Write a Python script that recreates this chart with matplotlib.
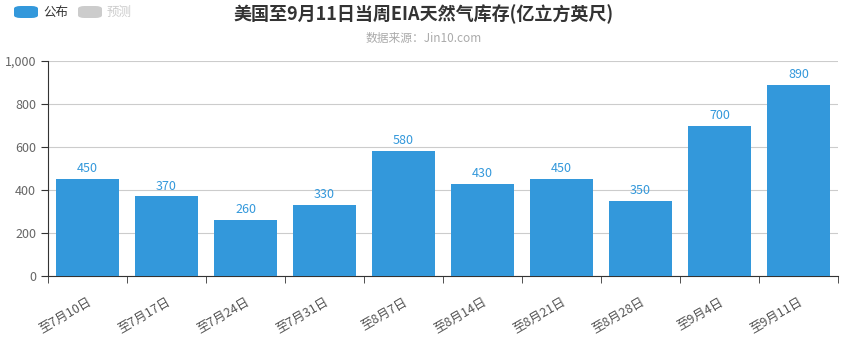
import matplotlib
matplotlib.use("Agg")
import matplotlib.pyplot as plt
from matplotlib.patches import FancyBboxPatch
from matplotlib.ticker import FuncFormatter, FixedLocator
import numpy as np

plt.rcParams['font.family'] = ['Noto Sans CJK SC', 'DejaVu Sans']

categories = ["至7月10日", "至7月17日", "至7月24日", "至7月31日", "至8月7日",
              "至8月14日", "至8月21日", "至8月28日", "至9月4日", "至9月11日"]
values = [450, 370, 260, 330, 580, 430, 450, 350, 700, 890]
yticks = [0, 200, 400, 600, 800, 1000]

title = "美国至9月11日当周EIA天然气库存(亿立方英尺)"
subtitle = "数据来源：Jin10.com"
legend_labels = ["公布", "预测"]

bar_color = "#3398DB"

fig = plt.figure(figsize=(8.48, 3.42), dpi=100)
ax = fig.add_axes([48/848, 1-276/342, (838-48)/848, (276-61)/342])

x = np.arange(len(categories))
ax.bar(x, values, width=0.8, color=bar_color, zorder=3)
for xi, v in zip(x, values):
    ax.text(xi, v + 18, str(v), ha='center', va='bottom', color=bar_color, fontsize=9)

ax.set_xlim(-0.5, len(categories) - 0.5)
ax.set_ylim(0, 1000)
ax.set_yticks(yticks)
ax.yaxis.set_major_formatter(FuncFormatter(lambda v, p: f"{int(v):,}"))
ax.grid(axis='y', color='#cccccc', linewidth=0.8, zorder=0)

ax.set_xticks(x)
ax.set_xticklabels(categories, rotation=30, ha='right', rotation_mode='anchor',
                   fontsize=9, color='#555555')
ax.tick_params(axis='x', length=0, pad=14)
ax.xaxis.set_minor_locator(FixedLocator(np.arange(-0.5, len(categories), 1.0)))
ax.tick_params(axis='x', which='minor', length=5, color='#333333')
ax.tick_params(axis='y', length=5, color='#333333', labelsize=9, labelcolor='#666666')

for s in ['top', 'right']:
    ax.spines[s].set_visible(False)
ax.spines['left'].set_color('#333333')
ax.spines['bottom'].set_color('#333333')

fig.text(0.5, 1-14/342, title, ha='center', va='center', fontsize=13,
         fontweight='bold', color='#333333')
fig.text(0.5, 1-38/342, subtitle, ha='center', va='center', fontsize=8.5, color='#aaaaaa')

# legend
for i, (lab, col, tcol) in enumerate(zip(legend_labels, [bar_color, '#cccccc'], ['#333333', '#cccccc'])):
    x0 = 14 + i * 64
    p = FancyBboxPatch((x0/848, 1-18/342), 24/848, 12/342,
                       boxstyle="round,pad=0,rounding_size=0.008",
                       transform=fig.transFigure, facecolor=col, edgecolor='none')
    fig.patches.append(p)
    fig.text((x0 + 29)/848, 1-12/342, lab, ha='left', va='center', fontsize=9, color=tcol)

fig.savefig("out.png", dpi=100)
